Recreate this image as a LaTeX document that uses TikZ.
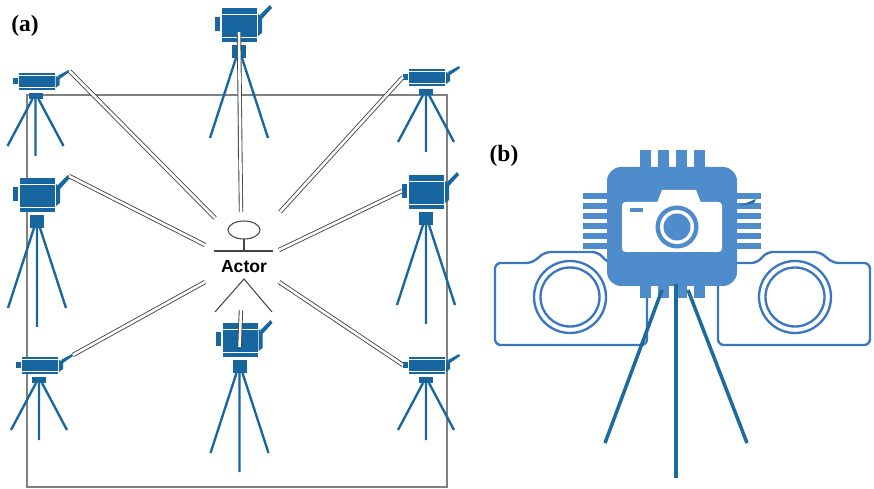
\documentclass[tikz,border=0pt]{standalone}
\usepackage{fontspec}
\setmainfont{Liberation Serif}
\setsansfont{Liberation Sans}
\definecolor{camblue}{HTML}{17669F}
\definecolor{wire}{HTML}{444444}
\definecolor{room}{HTML}{808080}
\definecolor{chip}{HTML}{4E8CCB}
\definecolor{shell}{HTML}{3B77C1}
\definecolor{leg}{HTML}{1D6A9C}

\tikzset{
  link/.style={draw=wire,double=white,double distance=2.2pt,line width=0.75pt},
  tripod/.style={camblue,line width=2pt},
  stick/.style={draw=wire,line width=0.9pt},
  % small camcorder on a short tripod, origin = top of the tripod head
  pics/flatcam/.style={code={
    \fill[camblue] (-17,-20) rectangle (19,-3);
    \draw[white,line width=0.8pt] (-17,-17.5) -- (19,-17.5) (-17,-6) -- (19,-6);
    \fill[camblue] (-23,-15) rectangle (-18,-9);
    \fill[camblue] (20,-17) -- (24,-15) -- (24,-8) -- (20,-5) -- cycle;
    \fill[camblue] (22,-17) -- (33,-23) -- (34,-21) -- (24,-14) -- cycle;
    \coordinate (-back) at (-23,-12);
    \coordinate (-front) at (34,-22);
    \fill[camblue] (-7,0) rectangle (7,6);
    \draw[tripod] (-3,6) -- (-28,53) (0,6) -- (0,63) (3,6) -- (28,53);
  }},
  % box camera on a tall tripod
  pics/tallcam/.style={code={
    \fill[camblue] (-17,-37) rectangle (18,-3);
    \draw[white,line width=0.8pt] (-17,-31) -- (18,-31) (-17,-8) -- (18,-8);
    \fill[camblue] (-24,-28) rectangle (-19,-14);
    \fill[camblue] (19,-31) -- (23,-28) -- (23,-12) -- (19,-9) -- cycle;
    \fill[camblue] (21,-30) -- (31,-40) -- (33,-37) -- (23,-26) -- cycle;
    \coordinate (-back) at (-24,-21);
    \coordinate (-front) at (32,-39);
    \coordinate (-mast) at (0,-13);
    \fill[camblue] (-7,0) rectangle (7,13);
    \draw[tripod] (-3,13) -- (-29,93) (0,13) -- (0,112) (3,13) -- (29,93);
  }},
  % outline camera, origin = lens centre
  pics/shellcam/.style={code={
    \draw[shell,line width=2pt,rounded corners=5pt]
      (-77,48) -- (-77,-34) -- (-38,-34) -- (-28,-45) -- (25,-45)
      -- (38,-34) -- (75,-34) -- (75,48) -- cycle;
    \draw[shell,line width=2pt] (0,0) circle (36) (0,0) circle (29.5);
  }}
}

\begin{document}
\begin{tikzpicture}[x=0.03cm,y=-0.03cm]
  \useasboundingbox (0,0) rectangle (874,489);

  %% (a) capture room
  \node[font=\fontsize{20}{22}\selectfont\bfseries] (lbla) at (25,26) {(a)};
  \draw[room,line width=1.4pt] (27,95) rectangle (447,487);

  \pic (tl) at (35.5,93) {flatcam};
  \pic (tr) at (426,89) {flatcam};
  \pic (bl) at (39,377) {flatcam};
  \pic (br) at (426,377) {flatcam};
  \pic (tm) at (239,45) {tallcam};
  \pic (ml) at (37,215) {tallcam};
  \pic (mr) at (426,212) {tallcam};
  \pic (bm) at (239.5,360) {tallcam};

  % stick figure
  \draw[stick] (244,230) ellipse (16 and 9);
  \draw[stick] (244,239) -- (244,251) (214,251) -- (273,251);
  \node[font=\fontsize{15}{17}\selectfont\sffamily\bfseries,inner sep=1pt] (actor) at (244,267) {Actor};
  \draw[stick] (215,312) -- (244,279) -- (272,312);

  \coordinate (a-nw) at (215,218);
  \coordinate (a-n)  at (241,212);
  \coordinate (a-ne) at (280,212);
  \coordinate (a-w)  at (205,245);
  \coordinate (a-e)  at (279,250);
  \coordinate (a-sw) at (205,282);
  \coordinate (a-se) at (279,282);
  \coordinate (a-s)  at (241,310);

  \draw[link] (tl-front) -- (a-nw);
  \draw[link] (tm-mast) -- (a-n);
  \draw[link] (tr-back) -- (a-ne);
  \draw[link] (ml-front) -- (a-w);
  \draw[link] (mr-back) -- (a-e);
  \draw[link] (bl-front) -- (a-sw);
  \draw[link] (br-back) -- (a-se);
  \draw[link] (a-s) -- (bm-mast);

  %% (b) stereo camera module
  \node[font=\fontsize{20}{22}\selectfont\bfseries] (lblb) at (504,156) {(b)};

  \pic at (795,297) {shellcam};
  \pic[xscale=-1] at (570,297) {shellcam};

  % chip with pins
  \foreach \px in {645,663,681,699} {
    \fill[chip] (\px-5.5,150) rectangle (\px+5.5,168);
    \fill[chip] (\px-5.5,282) rectangle (\px+5.5,298);
  }
  \foreach \py in {196,206,216,226,236,246} {
    \fill[chip] (583,\py-2.8) rectangle (610,\py+2.8);
    \fill[chip] (734,\py-2.8) rectangle (761,\py+2.8);
  }
  \fill[chip,rounded corners=12pt] (607,167) rectangle (737,286);
  \fill[leg] (739,206) -- (756,199) -- (754,203) -- cycle;

  % camera symbol on the chip
  \fill[white,rounded corners=3pt] (622,202) rectangle (722,252);
  \fill[white] (657,203) -- (662,190) -- (696,190) -- (701,203) -- cycle;
  \fill[chip] (630,208) rectangle (643,212);
  \fill[chip] (677,227) circle (21.5);
  \fill[white] (677,227) circle (17);
  \fill[chip] (677,227) circle (13.5);

  % tripod under the module
  \draw[leg,line width=3pt] (662,290) -- (605,443);
  \draw[leg,line width=3pt] (676,284) -- (676,478);
  \draw[leg,line width=3pt] (688,290) -- (747,443);
\end{tikzpicture}
\end{document}
